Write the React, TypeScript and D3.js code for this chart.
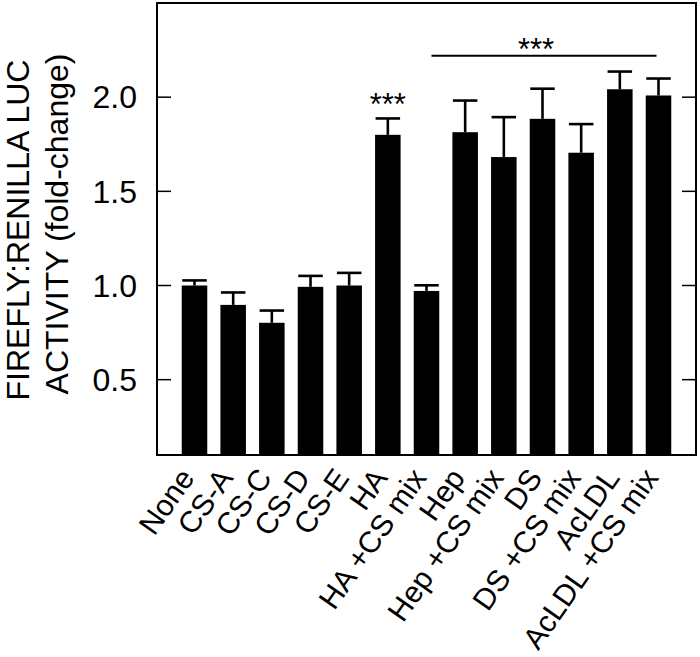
import React, { useEffect, useRef } from 'react';
import * as d3 from 'd3';

// data
const categories = ['None', 'CS-A', 'CS-C', 'CS-D', 'CS-E', 'HA', 'HA +CS mix', 'Hep', 'Hep +CS mix', 'DS', 'DS +CS mix', 'AcLDL', 'AcLDL +CS mix'];
const means = [1.0, 0.897, 0.802, 0.993, 1.0, 1.8, 0.971, 1.814, 1.682, 1.885, 1.705, 2.042, 2.009];
const errors = [0.027, 0.066, 0.065, 0.058, 0.067, 0.087, 0.03, 0.168, 0.212, 0.16, 0.152, 0.094, 0.09];
const yTicks = [0.5, 1.0, 1.5, 2.0];

const FONT = '"Liberation Sans", Arial, sans-serif';

const App = () => {
  const ref = useRef<SVGSVGElement>(null);

  useEffect(() => {
    const svg = d3.select(ref.current);
    svg.selectAll('*').remove();

    const left = 157;
    const right = 696;
    const top = 3;
    const bottom = 455;

    const x = d3.scaleBand<string>()
      .domain(categories)
      .range([left, right])
      .paddingInner(0.34)
      .paddingOuter(0.64);

    const y = d3.scaleLinear()
      .domain([0.1, 2.5])
      .range([bottom, top]);

    const bw = x.bandwidth();
    const cx = (c: string) => (x(c) as number) + bw / 2;

    // bars
    svg.append('g')
      .selectAll('rect')
      .data(categories)
      .join('rect')
      .attr('x', d => x(d) as number)
      .attr('y', (d, i) => y(means[i]))
      .attr('width', bw)
      .attr('height', (d, i) => bottom - y(means[i]))
      .attr('fill', '#000');

    // error bars (upper only)
    const eb = svg.append('g').attr('stroke', '#000').attr('stroke-width', 2.6);
    categories.forEach((c, i) => {
      const yt = y(means[i] + errors[i]);
      eb.append('line')
        .attr('x1', cx(c)).attr('x2', cx(c))
        .attr('y1', y(means[i])).attr('y2', yt);
      eb.append('line')
        .attr('x1', cx(c) - bw * 0.48).attr('x2', cx(c) + bw * 0.48)
        .attr('y1', yt).attr('y2', yt);
    });

    // frame
    svg.append('rect')
      .attr('x', left).attr('y', top)
      .attr('width', right - left).attr('height', bottom - top)
      .attr('fill', 'none')
      .attr('stroke', '#000')
      .attr('stroke-width', 2);

    // inward ticks on both sides
    const tickLen = 14;
    yTicks.forEach(t => {
      svg.append('line')
        .attr('x1', left).attr('x2', left + tickLen)
        .attr('y1', y(t)).attr('y2', y(t))
        .attr('stroke', '#000').attr('stroke-width', 1.5);
      svg.append('line')
        .attr('x1', right - tickLen).attr('x2', right)
        .attr('y1', y(t)).attr('y2', y(t))
        .attr('stroke', '#000').attr('stroke-width', 1.5);
      svg.append('text')
        .attr('x', 137)
        .attr('y', y(t))
        .attr('dy', '0.35em')
        .attr('text-anchor', 'end')
        .attr('font-family', FONT)
        .attr('font-size', 32)
        .text(d3.format('.1f')(t));
    });

    // y-axis title, two lines
    svg.append('text')
      .attr('transform', 'translate(29,230) rotate(-90)')
      .attr('text-anchor', 'middle')
      .attr('font-family', FONT)
      .attr('font-size', 32)
      .text('FIREFLY:RENILLA LUC');
    svg.append('text')
      .attr('transform', 'translate(68,224) rotate(-90)')
      .attr('text-anchor', 'middle')
      .attr('font-family', FONT)
      .attr('font-size', 32)
      .text('ACTIVITY (fold-change)');

    // category labels
    svg.append('g')
      .selectAll('text')
      .data(categories)
      .join('text')
      .attr('transform', d => `translate(${cx(d) + 1},478) rotate(-55)`)
      .attr('text-anchor', 'end')
      .attr('font-family', FONT)
      .attr('font-size', 30)
      .text(d => d);

    // significance marks
    svg.append('text')
      .attr('x', cx('HA'))
      .attr('y', 115)
      .attr('text-anchor', 'middle')
      .attr('font-family', FONT)
      .attr('font-size', 31)
      .text('***');

    const x1 = cx('HA +CS mix') + 5;
    const x2 = cx('AcLDL +CS mix') - 2;
    svg.append('line')
      .attr('x1', x1).attr('x2', x2)
      .attr('y1', 55.7).attr('y2', 55.7)
      .attr('stroke', '#000').attr('stroke-width', 2);
    svg.append('text')
      .attr('x', (x1 + x2) / 2 - 8)
      .attr('y', 60)
      .attr('text-anchor', 'middle')
      .attr('font-family', FONT)
      .attr('font-size', 31)
      .text('***');
  }, []);

  return (
    <svg
      ref={ref}
      width={700}
      height={657}
      style={{ position: 'absolute', left: 0, top: 0, background: '#fff' }}
    />
  );
};

export default App;
